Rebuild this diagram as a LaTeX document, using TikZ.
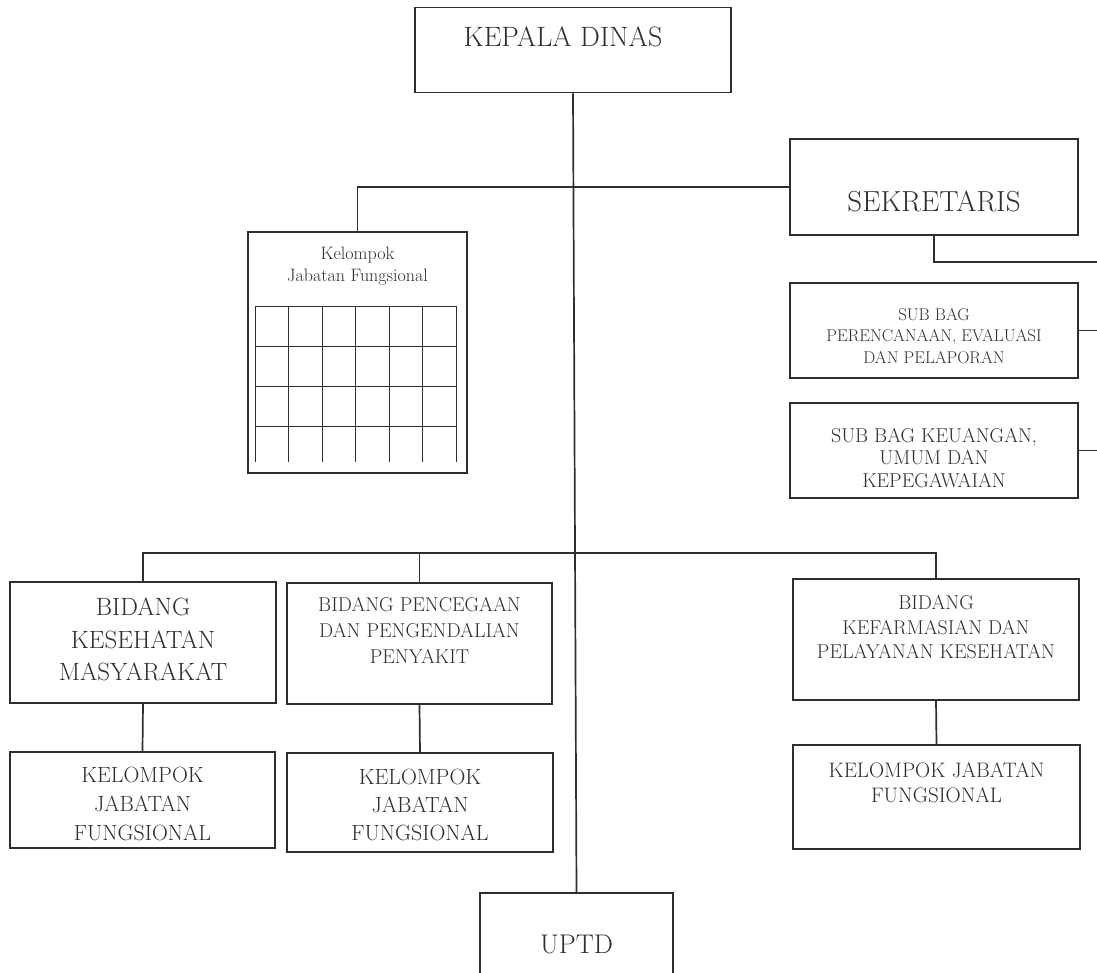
\documentclass[tikz,border=0pt]{standalone}
\usepackage{tikz}
\usepackage{xcolor}
\usetikzlibrary{positioning,calc}
\definecolor{ink}{HTML}{2E2E2E}

\begin{document}
\begin{tikzpicture}[
    x=1pt, y=-1pt,
    box/.style={rectangle, draw=ink, line width=1.7pt, inner sep=0pt},
    wide/.style={box, minimum width=288pt},
    txt/.style={inner sep=0pt, align=center, text=ink},
    link/.style={draw=ink, line width=1.7pt},
    gridline/.style={draw=ink, line width=1pt},
]
\useasboundingbox (0,0) rectangle (1097,972);
\clip (0,0) rectangle (1097,972);

\node[box, minimum width=316pt, minimum height=85pt] (kadis) at (573,50) {};
\node[wide, minimum height=96pt] (sekr) at (934,187) {};
\node[wide, minimum height=95pt] (sub1) at (934,330.5) {};
\node[wide, minimum height=95pt] (sub2) at (934,450.5) {};
\node[box, minimum width=219pt, minimum height=241pt] (kjf) at (357.5,352.5) {};
\node[box, minimum width=266pt, minimum height=121pt] (bkm) at (143,642.5) {};
\node[box, minimum width=265pt, minimum height=121pt] (bp2p) at (419.5,643.5) {};
\node[box, minimum width=286pt, minimum height=121pt] (bfk) at (936,639.5) {};
\node[box, minimum width=265pt, minimum height=96pt] (kjf1) at (142.5,800) {};
\node[box, minimum width=266pt, minimum height=99pt] (kjf2) at (420,802.5) {};
\node[box, minimum width=287pt, minimum height=104pt] (kjf3) at (936.5,797) {};
\node[box, minimum width=193pt, minimum height=106pt] (uptd) at (576.5,946) {};

\node[txt, below=19.5pt of kadis.north, xshift=-10pt, font=\fontsize{28}{34}\selectfont] (kadis-t) {KEPALA DINAS};
\node[txt, below=53pt of sekr.north, font=\fontsize{29}{35}\selectfont] (sekr-t) {SEKRETARIS};
\node[txt, below=26pt of sub1.north, font=\fontsize{17}{21.5}\selectfont] (sub1-t) {SUB BAG\\PERENCANAAN, EVALUASI\\DAN PELAPORAN};
\node[txt, below=26pt of sub2.north, font=\fontsize{20}{22.5}\selectfont] (sub2-t) {SUB BAG KEUANGAN,\\UMUM DAN\\KEPEGAWAIAN};
\node[txt, below=16pt of kjf.north, font=\fontsize{18}{22}\selectfont] (kjf-t) {Kelompok\\Jabatan Fungsional};
\node[txt, below=16.5pt of bkm.north, font=\fontsize{25}{32.5}\selectfont] (bkm-t) {BIDANG\\KESEHATAN\\MASYARAKAT};
\node[txt, below=15pt of bp2p.north, font=\fontsize{20}{26}\selectfont] (bp2p-t) {BIDANG PENCEGAAN\\DAN PENGENDALIAN\\PENYAKIT};
\node[txt, below=17pt of bfk.north, font=\fontsize{20}{24.5}\selectfont] (bfk-t) {BIDANG\\KEFARMASIAN DAN\\PELAYANAN KESEHATAN};
\node[txt, below=15.5pt of kjf1.north, font=\fontsize{22}{29}\selectfont] (kjf1-t) {KELOMPOK\\JABATAN\\FUNGSIONAL};
\node[txt, below=16.5pt of kjf2.north, font=\fontsize{22}{28}\selectfont] (kjf2-t) {KELOMPOK\\JABATAN\\FUNGSIONAL};
\node[txt, below=18pt of kjf3.north, font=\fontsize{21}{25}\selectfont] (kjf3-t) {KELOMPOK JABATAN\\FUNGSIONAL};
\node[txt, below=43pt of uptd.north, font=\fontsize{27}{32}\selectfont] (uptd-t) {UPTD};

\foreach \i in {0,...,6}
    \draw[gridline] ({255+\i*33.5},306) -- ({255+\i*33.5},462);
\foreach \j in {0,...,3}
    \draw[gridline] (255,{306+\j*40}) -- (456,{306+\j*40});

\coordinate (rail) at (1104,262);
\coordinate (hub) at (575,553);

\draw[link] (kadis.south) -- (uptd.north);
\draw[link] (kjf.north) |- (sekr.west);
\draw[link] (sekr.south) |- (rail) -- (rail |- sub2.east);
\draw[link] (sub1.east) -- (sub1.east -| rail);
\draw[link] (sub2.east) -- (sub2.east -| rail);
\draw[link] (bkm.north) |- (hub) -| (bfk.north);
\draw[link] (bp2p.north) -- (bp2p.north |- hub);
\draw[link] (bkm.south) -- (kjf1.north);
\draw[link] (bp2p.south) -- (kjf2.north);
\draw[link] (bfk.south) -- (kjf3.north);

\end{tikzpicture}
\end{document}
